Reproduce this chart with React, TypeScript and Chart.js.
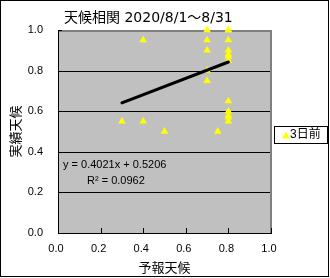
import React, { useEffect, useRef } from "react";
import { Chart, registerables } from "chart.js";

Chart.register(...registerables);

const TITLE = "天候相関 2020/8/1～8/31";
const X_TITLE = "予報天候";
const Y_TITLE = "実績天候";
const SERIES_LABEL = "3日前";
const EQUATION_TEXT = "y = 0.4021x + 0.5206";
const R2_TEXT = "R² = 0.0962";

// forecast (x) / actual (y) pairs
const forecast = [0.3, 0.4, 0.4, 0.5, 0.75, 0.7, 0.7, 0.7, 0.7, 0.7, 0.8, 0.8, 0.8, 0.8, 0.8, 0.8, 0.8, 0.8, 0.8, 0.8, 0.8, 0.8];
const actual = [0.55, 0.55, 0.95, 0.5, 0.5, 1.0, 0.95, 0.9, 0.8, 0.75, 1.0, 0.95, 0.9, 0.88, 0.87, 0.85, 0.65, 0.6, 0.58, 0.57, 0.55, 1.0];

const TREND_SLOPE = 0.4021;
const TREND_INTERCEPT = 0.5206;

const AXIS_MIN = 0;
const AXIS_MAX = 1;
const AXIS_STEP = 0.2;
const GRID_VALUES = [0.2, 0.4, 0.6, 0.8];
const TICK_MARK_VALUES = [0, 0.2, 0.4, 0.6, 0.8, 1.0];

const TICK_FONT = { family: '"Liberation Sans", Arial, sans-serif', size: 11 };
const CJK_FONT = '"Noto Sans CJK JP", sans-serif';

const decorPlugin = {
  id: "decor",
  beforeDraw(chart: any) {
    const { ctx, chartArea: a } = chart;
    ctx.save();
    ctx.fillStyle = "#ffffff";
    ctx.fillRect(0, 0, chart.width, chart.height);
    ctx.fillStyle = "#c0c0c0";
    ctx.fillRect(a.left, a.top, a.right - a.left, a.bottom - a.top);
    ctx.restore();
  },
  beforeDatasetsDraw(chart: any) {
    const { ctx, chartArea: a, scales } = chart;
    const xs = scales.x;
    const ys = scales.y;
    ctx.save();
    ctx.fillStyle = "#000000";
    GRID_VALUES.forEach((v) => {
      const y = Math.round(ys.getPixelForValue(v));
      ctx.fillRect(a.left, y, a.right - a.left, 1);
    });
    ctx.fillStyle = "#808080";
    ctx.fillRect(a.left, a.top, a.right - a.left, 2);
    ctx.fillRect(a.right - 1, a.top, 2, a.bottom - a.top);
    ctx.fillStyle = "#000000";
    ctx.fillRect(a.left, a.top, 1, a.bottom - a.top + 1);
    ctx.fillRect(a.left, a.bottom, a.right - a.left + 1, 1);
    TICK_MARK_VALUES.forEach((v) => {
      const x = Math.round(xs.getPixelForValue(v));
      ctx.fillRect(x, a.bottom - 5, 1, 5);
      const y = Math.round(ys.getPixelForValue(v));
      ctx.fillRect(a.left, y, 4, 1);
    });
    ctx.restore();
  },
  afterDraw(chart: any) {
    const { ctx } = chart;
    ctx.save();
    ctx.fillStyle = "#000000";
    ctx.font = '14px "DejaVu Sans", ' + CJK_FONT;
    ctx.textBaseline = "alphabetic";
    ctx.textAlign = "left";
    ctx.fillText(TITLE, 64, 21.5);
    ctx.font = '11px "Liberation Sans", Arial, sans-serif';
    ctx.textBaseline = "middle";
    ctx.fillText(EQUATION_TEXT, 63, 165);
    ctx.fillText(R2_TEXT, 87, 181);
    ctx.fillStyle = "#ffffff";
    ctx.fillRect(274, 126, 54, 17);
    ctx.strokeStyle = "#000000";
    ctx.lineWidth = 1;
    ctx.strokeRect(274.5, 126.5, 53, 17);
    ctx.fillStyle = "#ffff00";
    ctx.beginPath();
    ctx.moveTo(286, 131.5);
    ctx.lineTo(290, 138.5);
    ctx.lineTo(282, 138.5);
    ctx.closePath();
    ctx.fill();
    ctx.fillStyle = "#000000";
    ctx.font = '12px "Liberation Sans", ' + CJK_FONT;
    ctx.textBaseline = "middle";
    ctx.fillText(SERIES_LABEL, 290, 135);
    ctx.strokeStyle = "#000000";
    ctx.strokeRect(0.5, 0.5, 328, 276);
    ctx.restore();
  },
};

export default function App() {
  const canvasRef = useRef<HTMLCanvasElement | null>(null);

  useEffect(() => {
    document.body.style.margin = "0";
    const canvas = canvasRef.current;
    if (!canvas) return;
    const points = forecast.map((x, i) => ({ x, y: actual[i] }));
    const xMin = Math.min(...forecast);
    const xMax = Math.max(...forecast);
    const trend = [
      { x: xMin, y: TREND_SLOPE * xMin + TREND_INTERCEPT },
      { x: xMax, y: TREND_SLOPE * xMax + TREND_INTERCEPT },
    ];
    const fmt = (v: any) => Number(v).toFixed(1);
    const chart = new Chart(canvas, {
      type: "scatter",
      data: {
        datasets: [
          {
            label: SERIES_LABEL,
            data: points,
            pointStyle: "triangle",
            pointRadius: 4.4,
            pointHoverRadius: 4.4,
            backgroundColor: "#ffff00",
            borderColor: "#ffff00",
            borderWidth: 0,
            showLine: false,
            clip: false,
            order: 1,
          } as any,
          {
            label: "trend",
            data: trend,
            showLine: true,
            pointRadius: 0,
            borderColor: "#000000",
            borderWidth: 3,
            borderCapStyle: "round",
            order: 0,
          } as any,
        ],
      },
      options: {
        responsive: false,
        animation: false,
        devicePixelRatio: 1,
        events: [],
        layout: { padding: { left: 0, top: 30, right: 59, bottom: 0 } },
        plugins: {
          legend: { display: false },
          title: { display: false },
          tooltip: { enabled: false },
        },
        scales: {
          x: {
            type: "linear",
            min: AXIS_MIN,
            max: AXIS_MAX,
            grid: { display: false, drawTicks: false },
            border: { display: false },
            ticks: {
              stepSize: AXIS_STEP,
              font: TICK_FONT,
              color: "#000000",
              padding: 9,
              labelOffset: -2,
              maxRotation: 0,
              callback: fmt,
            },
            title: {
              display: true,
              text: X_TITLE,
              color: "#000000",
              font: { family: CJK_FONT, size: 13 },
              padding: { top: 0, bottom: 3 },
            },
            afterFit: (s: any) => {
              s.height = 45;
            },
          },
          y: {
            type: "linear",
            min: AXIS_MIN,
            max: AXIS_MAX,
            grid: { display: false, drawTicks: false },
            border: { display: false },
            ticks: {
              stepSize: AXIS_STEP,
              font: TICK_FONT,
              color: "#000000",
              padding: 15,
              callback: fmt,
            },
            title: {
              display: true,
              text: Y_TITLE,
              color: "#000000",
              font: { family: CJK_FONT, size: 13 },
              padding: { top: 7, bottom: 0 },
            },
            afterFit: (s: any) => {
              s.width = 58;
            },
          },
        },
      } as any,
      plugins: [decorPlugin],
    });
    return () => chart.destroy();
  }, []);

  return (
    <canvas
      ref={canvasRef}
      width={330}
      height={278}
      style={{ display: "block", width: 330, height: 278 }}
    />
  );
}
